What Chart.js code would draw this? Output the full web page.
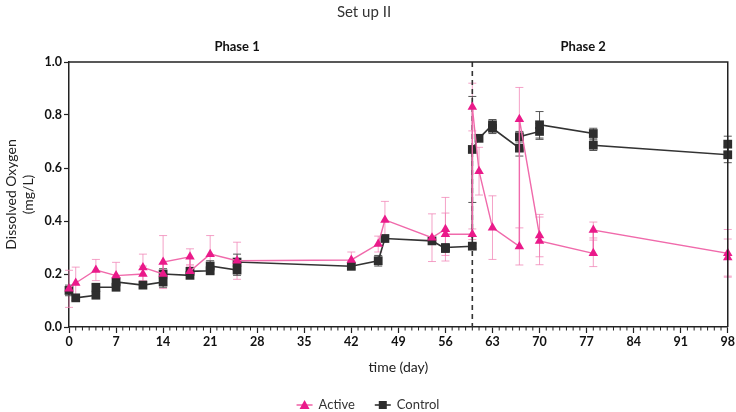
<!DOCTYPE html>
<html>
<head>
<meta charset="utf-8">
<script src="https://cdn.jsdelivr.net/npm/chart.js@4/dist/chart.umd.min.js"></script>
<style>
  html, body { margin: 0; padding: 0; background: #fff; }
  #wrap { width: 736px; height: 412px; }
</style>
</head>
<body>
<div id="wrap"><canvas id="doChart"></canvas></div>
<script>
// Set up II - dissolved oxygen over time (replicate points share a day)

const activeDays = [0, 1, 4, 7, 11, 11, 14, 14, 18, 18, 21, 25, 42, 46, 47, 54, 56, 56, 60, 60, 61, 63, 67, 67, 70, 70, 78, 78, 98, 98];
const activeDO   = [0.144, 0.166, 0.215, 0.194, 0.200, 0.225, 0.200, 0.245, 0.265, 0.210, 0.275, 0.250, 0.253, 0.313, 0.404, 0.337, 0.369, 0.350, 0.350, 0.830, 0.588, 0.375, 0.304, 0.784, 0.345, 0.325, 0.278, 0.366, 0.278, 0.262];
const activeSD   = [0.07, 0.06, 0.04, 0.05, 0.03, 0.05, 0.04, 0.10, 0.03, 0.02, 0.07, 0.07, 0.03, 0.03, 0.07, 0.09, 0.12, 0.08, 0.02, 0.09, 0.09, 0.12, 0.07, 0.12, 0.08, 0.09, 0.05, 0.03, 0.09, 0.07];

const controlDays = [0, 1, 4, 4, 7, 7, 11, 14, 14, 18, 18, 21, 21, 25, 25, 42, 46, 47, 54, 56, 56, 60, 60, 61, 63, 63, 67, 67, 70, 70, 78, 78, 98, 98];
const controlDO   = [0.138, 0.110, 0.120, 0.150, 0.150, 0.170, 0.158, 0.170, 0.200, 0.195, 0.210, 0.212, 0.230, 0.215, 0.245, 0.229, 0.250, 0.334, 0.325, 0.296, 0.300, 0.305, 0.670, 0.712, 0.763, 0.750, 0.675, 0.718, 0.738, 0.763, 0.730, 0.686, 0.650, 0.690];
const controlSD   = [0.02, 0.01, 0.01, 0.01, 0.01, 0.01, 0.01, 0.02, 0.02, 0.01, 0.01, 0.01, 0.02, 0.02, 0.03, 0.01, 0.02, 0.01, 0.01, 0.01, 0.01, 0.01, 0.20, 0.01, 0.02, 0.02, 0.03, 0.02, 0.03, 0.05, 0.02, 0.02, 0.03, 0.03];

const seriesNames = ['Active', 'Control'];
const xTicks = [0, 7, 14, 21, 28, 35, 42, 49, 56, 63, 70, 77, 84, 91, 98];
const yTicks = [0.0, 0.2, 0.4, 0.6, 0.8, 1.0];
const phaseLabels = ['Phase 1', 'Phase 2'];
const phaseDays = [25, 76.5];
const phaseSplitDay = 60;

const FONT = 'Lato, "Open Sans", sans-serif';

function toPoints(days, vals) {
  return days.map((d, i) => ({ x: d, y: vals[i] }));
}

// error bars, drawn under the markers
const errorBars = {
  id: 'errorBars',
  beforeDatasetsDraw(chart) {
    const ctx = chart.ctx;
    const yScale = chart.scales.y;
    chart.data.datasets.forEach((ds, di) => {
      const meta = chart.getDatasetMeta(di);
      if (!ds.sd || meta.hidden) return;
      ctx.save();
      ctx.strokeStyle = ds.errorColor;
      ctx.lineWidth = 1;
      meta.data.forEach((pt, i) => {
        const v = ds.data[i].y, e = ds.sd[i];
        const top = yScale.getPixelForValue(v + e);
        const bot = yScale.getPixelForValue(v - e);
        ctx.beginPath();
        ctx.moveTo(pt.x, top); ctx.lineTo(pt.x, bot);
        ctx.moveTo(pt.x - 4, top); ctx.lineTo(pt.x + 4, top);
        ctx.moveTo(pt.x - 4, bot); ctx.lineTo(pt.x + 4, bot);
        ctx.stroke();
      });
      ctx.restore();
    });
  }
};

// bottom legend: line + marker swatch, then the name
function drawLegend(chart) {
  const ctx = chart.ctx;
  const y = 405;
  ctx.save();
  ctx.font = '13px ' + FONT;
  ctx.textBaseline = 'middle';
  ctx.textAlign = 'left';
  const gap = 20, sw = 16, tgap = 6;
  const widths = chart.data.datasets.map(ds => sw + tgap + ctx.measureText(ds.label).width);
  const total = widths.reduce((s, w) => s + w, 0) + gap * (widths.length - 1);
  let x = (chart.width - total) / 2;
  chart.data.datasets.forEach((ds, i) => {
    ctx.strokeStyle = ds.borderColor;
    ctx.lineWidth = 1.6;
    ctx.beginPath(); ctx.moveTo(x, y); ctx.lineTo(x + sw, y); ctx.stroke();
    const cx = x + sw / 2;
    ctx.fillStyle = ds.backgroundColor;
    if (ds.pointStyle === 'triangle') {
      ctx.beginPath(); ctx.moveTo(cx, y - 5); ctx.lineTo(cx + 5, y + 4); ctx.lineTo(cx - 5, y + 4); ctx.closePath(); ctx.fill();
    } else {
      ctx.fillRect(cx - 4, y - 4, 8, 8);
    }
    ctx.fillStyle = '#333';
    ctx.fillText(ds.label, x + sw + tgap, y);
    x += widths[i] + gap;
  });
  ctx.restore();
}

// frame, minor ticks, phase divider, phase labels and legend
const decorations = {
  id: 'decorations',
  beforeDatasetsDraw(chart) {
    const { ctx, chartArea: a, scales: { x } } = chart;
    ctx.save();
    const px = x.getPixelForValue(phaseSplitDay);
    ctx.strokeStyle = '#333';
    ctx.lineWidth = 1.6;
    ctx.setLineDash([5, 4]);
    ctx.beginPath();
    ctx.moveTo(px, a.top); ctx.lineTo(px, a.bottom);
    ctx.stroke();
    ctx.restore();
  },
  afterDraw(chart) {
    const { ctx, chartArea: a, scales: { x } } = chart;
    ctx.save();
    ctx.strokeStyle = '#222';
    ctx.lineWidth = 1.5;
    ctx.beginPath();
    ctx.moveTo(a.left, a.top); ctx.lineTo(a.right, a.top); ctx.lineTo(a.right, a.bottom);
    ctx.stroke();
    // minor ticks every day
    ctx.lineWidth = 1;
    ctx.beginPath();
    for (let d = x.min; d <= x.max; d++) {
      if (d % 7 === 0) continue;
      const px = x.getPixelForValue(d);
      ctx.moveTo(px, a.bottom); ctx.lineTo(px, a.bottom + 3.5);
    }
    ctx.stroke();
    ctx.fillStyle = '#111';
    ctx.font = 'bold 13px ' + FONT;
    ctx.textAlign = 'center';
    ctx.textBaseline = 'middle';
    phaseLabels.forEach((t, i) => {
      ctx.fillText(t, x.getPixelForValue(phaseDays[i]), 47);
    });
    ctx.restore();
    drawLegend(chart);
  }
};

new Chart(document.getElementById('doChart'), {
  type: 'scatter',
  data: {
    datasets: [
      {
        label: seriesNames[0],
        data: toPoints(activeDays, activeDO),
        sd: activeSD,
        errorColor: 'rgba(240,130,180,0.75)',
        showLine: true,
        clip: false,
        borderColor: '#F06AAB',
        borderWidth: 1.4,
        backgroundColor: '#EA1A8A',
        pointBorderColor: '#EA1A8A',
        pointStyle: 'triangle',
        pointRadius: 5.5,
        pointBorderWidth: 0
      },
      {
        label: seriesNames[1],
        data: toPoints(controlDays, controlDO),
        sd: controlSD,
        errorColor: '#555',
        showLine: true,
        clip: false,
        borderColor: '#333',
        borderWidth: 1.6,
        backgroundColor: '#2d2d2d',
        pointBorderColor: '#2d2d2d',
        pointStyle: 'rect',
        pointRadius: 6.2,
        pointBorderWidth: 0
      }
    ]
  },
  options: {
    responsive: true,
    maintainAspectRatio: false,
    animation: false,
    layout: { padding: { left: 0, right: 8, top: 0, bottom: 0 } },
    plugins: {
      title: {
        display: true,
        text: 'Set up II',
        color: '#333',
        font: { family: FONT, size: 15, weight: 'normal' },
        padding: { top: 3, bottom: 41 }
      },
      legend: { display: false },
      tooltip: { enabled: false }
    },
    scales: {
      x: {
        type: 'linear',
        min: 0,
        max: 98,
        afterBuildTicks(scale) { scale.ticks = xTicks.map(v => ({ value: v })); },
        afterFit(scale) { scale.height = 85; },
        grid: { display: true, drawOnChartArea: false, tickLength: 6, tickColor: '#222', tickWidth: 1.2 },
        border: { color: '#222', width: 1.5 },
        ticks: { color: '#111', padding: 1, maxRotation: 0, font: { family: FONT, size: 12.5, weight: 'bold' } },
        title: {
          display: true,
          text: 'time (day)',
          color: '#222',
          font: { family: FONT, size: 14 },
          padding: { top: 0, bottom: 36 }
        }
      },
      y: {
        min: 0,
        max: 1,
        afterBuildTicks(scale) { scale.ticks = yTicks.map(v => ({ value: v })); },
        afterFit(scale) { scale.width = 69; },
        grid: { display: true, drawOnChartArea: false, tickLength: 5, tickColor: '#222', tickWidth: 1.2 },
        border: { color: '#222', width: 1.5 },
        ticks: {
          color: '#111',
          padding: 2,
          font: { family: FONT, size: 12.5, weight: 'bold' },
          callback: v => v.toFixed(1)
        },
        title: {
          display: true,
          text: ['Dissolved Oxygen', '(mg/L)'],
          color: '#222',
          font: { family: FONT, size: 14 },
          padding: { top: 3, bottom: 0 }
        }
      }
    }
  },
  plugins: [errorBars, decorations]
});
</script>
</body>
</html>
